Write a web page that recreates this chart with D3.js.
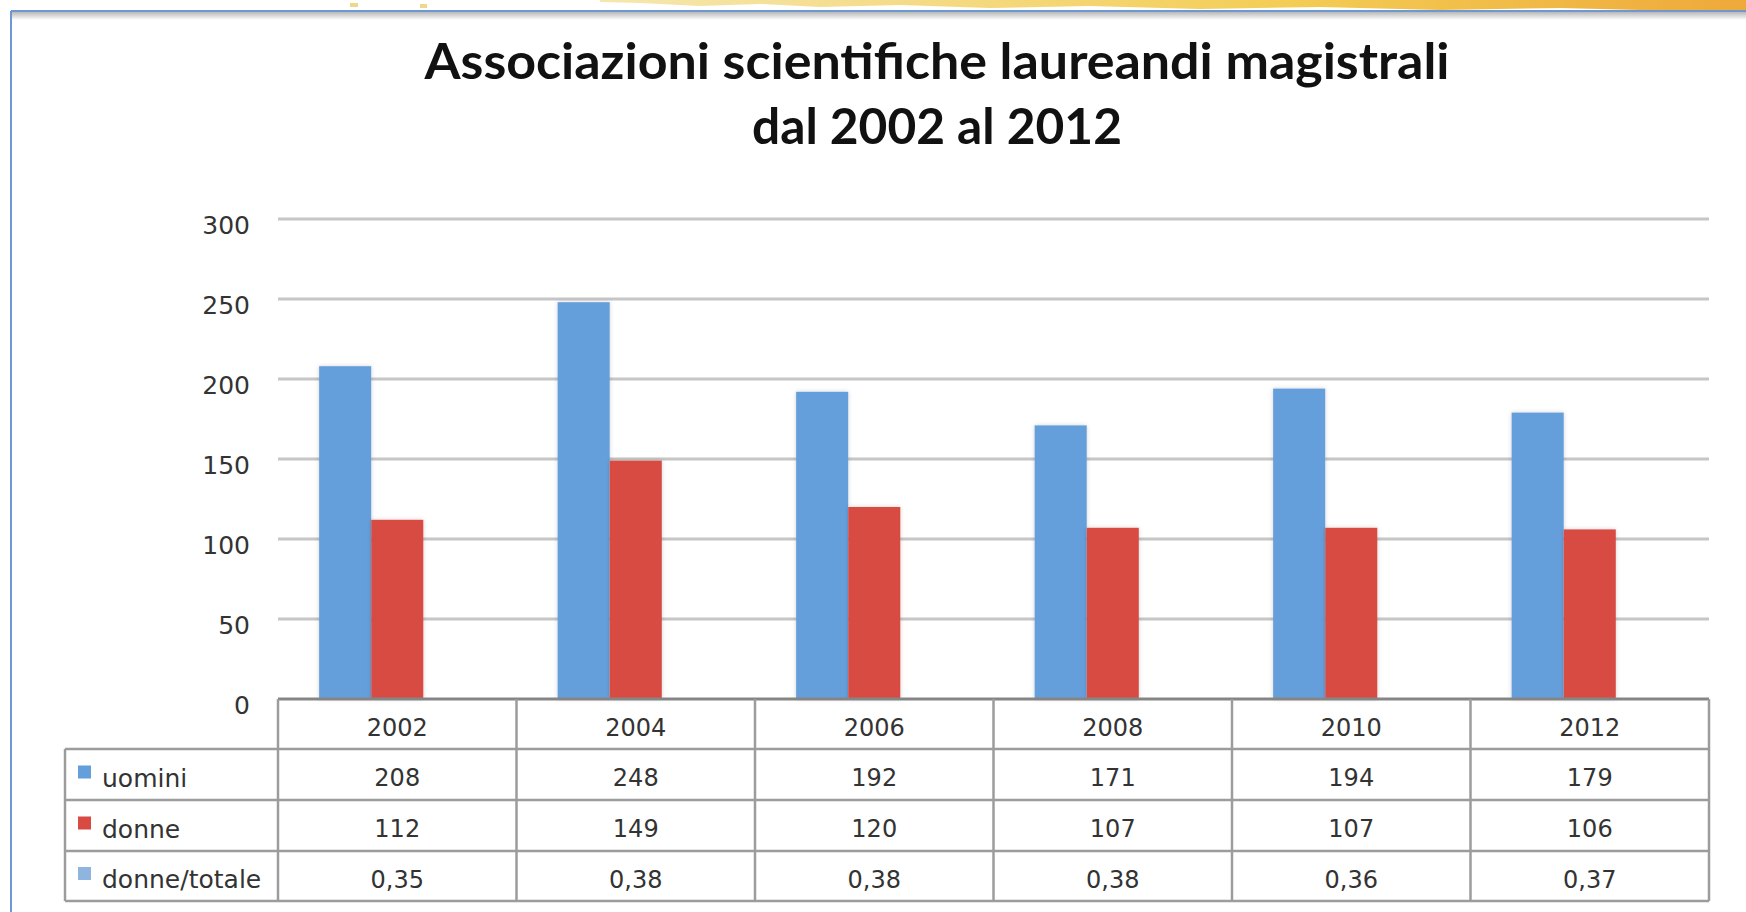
<!DOCTYPE html>
<html>
<head>
<meta charset="utf-8">
<script src="https://cdn.jsdelivr.net/npm/d3@7"></script>
<style>
  body { margin: 0; background: #fff; }
  svg { display: block; }
</style>
</head>
<body>
<svg id="chart"></svg>
<script>
// chart data
var years = ['2002', '2004', '2006', '2008', '2010', '2012'];
var uomini = [208, 248, 192, 171, 194, 179];
var donne = [112, 149, 120, 107, 107, 106];
var donneTotale = [0.35, 0.38, 0.38, 0.38, 0.36, 0.37];
var seriesNames = ['uomini', 'donne', 'donne/totale'];
var yTicks = [0, 50, 100, 150, 200, 250, 300];
var titleLines = ['Associazioni scientifiche laureandi magistrali', 'dal 2002 al 2012'];

var W = 1746, H = 912;
var svg = d3.select('#chart').attr('width', W).attr('height', H);

// Italian number format for the table
var it = d3.formatLocale({ decimal: ',', thousands: '.', grouping: [3], currency: ['', '€'] });
var fmtRatio = it.format('.2f');

var seriesValues = [uomini, donne, donneTotale];
var colors = ['#659fdb', '#d84b42', '#8fb4e0'];

var defs = svg.append('defs');
var shadow = defs.append('filter').attr('id', 'shadow')
    .attr('x', '-20%').attr('y', '-5%').attr('width', '140%').attr('height', '110%');
shadow.append('feDropShadow').attr('dx', 0).attr('dy', 0)
    .attr('stdDeviation', 2).attr('flood-color', '#000').attr('flood-opacity', 0.18);

var topGrad = defs.append('linearGradient').attr('id', 'topband')
    .attr('x1', 0).attr('x2', 1).attr('y1', 0).attr('y2', 0);
topGrad.append('stop').attr('offset', '0%').attr('stop-color', '#f6e7b0');
topGrad.append('stop').attr('offset', '60%').attr('stop-color', '#f3cd55');
topGrad.append('stop').attr('offset', '100%').attr('stop-color', '#eea93a');

var shade = defs.append('linearGradient').attr('id', 'shade')
    .attr('x1', 0).attr('x2', 0).attr('y1', 0).attr('y2', 1);
shade.append('stop').attr('offset', '0%').attr('stop-color', '#b8b8b8');
shade.append('stop').attr('offset', '100%').attr('stop-color', '#ffffff');

// decorative slide background at the very top
svg.append('path')
    .attr('d', 'M600,0 L1746,0 L1746,11 L1640,10 L1560,8 L1440,10 L1320,7 L1200,9 L1090,6 L990,8 L900,5 L820,7 L760,4 L700,6 L640,3 L600,2 Z')
    .attr('fill', 'url(#topband)');
svg.append('rect').attr('x', 350).attr('y', 3).attr('width', 8).attr('height', 4).attr('fill', '#f0d88a');
svg.append('rect').attr('x', 420).attr('y', 4).attr('width', 7).attr('height', 4).attr('fill', '#f0d88a');

// frame
svg.append('rect').attr('x', 12).attr('y', 12).attr('width', W - 12).attr('height', 8).attr('fill', 'url(#shade)');
svg.append('line').attr('x1', 11).attr('x2', W).attr('y1', 11).attr('y2', 11)
    .attr('stroke', '#6d98d2').attr('stroke-width', 2);
svg.append('line').attr('x1', 11).attr('x2', 11).attr('y1', 11).attr('y2', H)
    .attr('stroke', '#6d98d2').attr('stroke-width', 2);

// title
var titleWidths = [1025, 370];
svg.append('text')
    .attr('text-anchor', 'middle')
    .attr('font-family', 'Lato, "Open Sans", sans-serif')
    .attr('font-weight', 700)
    .attr('font-size', 50)
    .attr('fill', '#111')
    .selectAll('tspan')
    .data(titleLines)
    .enter().append('tspan')
    .attr('x', 937)
    .attr('y', function(d, i) { return 79 + i * 65; })
    .attr('textLength', function(d, i) { return titleWidths[i]; })
    .attr('lengthAdjust', 'spacingAndGlyphs')
    .text(function(d) { return d; });

// plot area
var plotLeft = 278, plotRight = 1709, plotTop = 219, plotBottom = 699;

var x = d3.scaleBand().domain(years).range([plotLeft, plotRight]).padding(0);
var xInner = d3.scaleBand().domain(seriesNames).range([0, x.bandwidth()])
    .paddingInner(0).paddingOuter(0.79);
var y = d3.scaleLinear().domain([0, 300]).range([plotBottom, plotTop]);

// gridlines
svg.append('g').selectAll('line')
    .data(yTicks.filter(function(d) { return d > 0; }))
    .enter().append('line')
    .attr('x1', plotLeft).attr('x2', plotRight)
    .attr('y1', function(d) { return y(d); }).attr('y2', function(d) { return y(d); })
    .attr('stroke', '#c6c6c6').attr('stroke-width', 3);

// y axis labels
var yAxis = svg.append('g')
    .attr('transform', 'translate(' + plotLeft + ',0)')
    .call(d3.axisLeft(y).tickValues(yTicks).tickSize(0).tickPadding(28));
yAxis.select('.domain').remove();
yAxis.selectAll('text')
    .attr('font-family', '"DejaVu Sans", sans-serif')
    .attr('font-size', 25)
    .attr('fill', '#333')
    .attr('dy', '0.58em');

// bars
var groups = svg.append('g').selectAll('g')
    .data(years)
    .enter().append('g')
    .attr('transform', function(d) { return 'translate(' + x(d) + ',0)'; });

groups.selectAll('rect')
    .data(function(d, i) {
        return seriesNames.map(function(s, k) { return { key: s, k: k, value: seriesValues[k][i] }; });
    })
    .enter().append('rect')
    .attr('x', function(d) { return xInner(d.key); })
    .attr('y', function(d) { return y(d.value); })
    .attr('width', xInner.bandwidth())
    .attr('height', function(d) { return Math.max(1, y(0) - y(d.value)); })
    .attr('fill', function(d) { return colors[d.k]; })
    .attr('filter', function(d) { return d.k < 2 ? 'url(#shadow)' : null; });

// data table
var rowTops = [699, 749, 800, 851, 901];
var tableLeft = 65;
var grid = svg.append('g').attr('stroke', '#9c9c9c').attr('stroke-width', 2.5);

// horizontal table lines
grid.selectAll('line.h')
    .data(rowTops)
    .enter().append('line')
    .attr('class', 'h')
    .attr('x1', function(d, i) { return i === 0 ? plotLeft : tableLeft; })
    .attr('x2', plotRight)
    .attr('y1', function(d) { return d; }).attr('y2', function(d) { return d; })
    .attr('stroke', function(d, i) { return i === 0 ? '#858585' : '#9c9c9c'; })
    .attr('stroke-width', function(d, i) { return i === 0 ? 3 : 2.5; });

// vertical table lines
var colEdges = [plotLeft].concat(years.map(function(d) { return x(d) + x.bandwidth(); }));
grid.selectAll('line.v')
    .data(colEdges)
    .enter().append('line')
    .attr('class', 'v')
    .attr('x1', function(d) { return d; }).attr('x2', function(d) { return d; })
    .attr('y1', rowTops[0]).attr('y2', rowTops[4]);
grid.append('line')
    .attr('x1', tableLeft).attr('x2', tableLeft)
    .attr('y1', rowTops[1]).attr('y2', rowTops[4]);

var textFont = '"DejaVu Sans", sans-serif';

// year header
svg.append('g').selectAll('text')
    .data(years)
    .enter().append('text')
    .attr('x', function(d) { return x(d) + x.bandwidth() / 2; })
    .attr('y', (rowTops[0] + rowTops[1]) / 2 + 3)
    .attr('dy', '0.36em')
    .attr('text-anchor', 'middle')
    .attr('font-family', textFont).attr('font-size', 24).attr('fill', '#333')
    .text(function(d) { return d; });

// series rows
var rows = svg.append('g').selectAll('g')
    .data(seriesNames)
    .enter().append('g')
    .attr('transform', function(d, i) { return 'translate(0,' + ((rowTops[i + 1] + rowTops[i + 2]) / 2 + 3) + ')'; });

rows.append('rect')
    .attr('x', 78).attr('y', -12).attr('width', 13).attr('height', 13)
    .attr('fill', function(d, i) { return colors[i]; });

rows.append('text')
    .attr('x', 102).attr('dy', '0.36em')
    .attr('font-family', textFont).attr('font-size', 25).attr('fill', '#333')
    .text(function(d) { return d; });

rows.selectAll('text.val')
    .data(function(d, k) {
        return seriesValues[k].map(function(v, i) { return { k: k, v: v, year: years[i] }; });
    })
    .enter().append('text')
    .attr('class', 'val')
    .attr('x', function(d) { return x(d.year) + x.bandwidth() / 2; })
    .attr('dy', '0.36em')
    .attr('text-anchor', 'middle')
    .attr('font-family', textFont).attr('font-size', 24).attr('fill', '#333')
    .text(function(d) { return d.k === 2 ? fmtRatio(d.v) : d.v; });
</script>
</body>
</html>
